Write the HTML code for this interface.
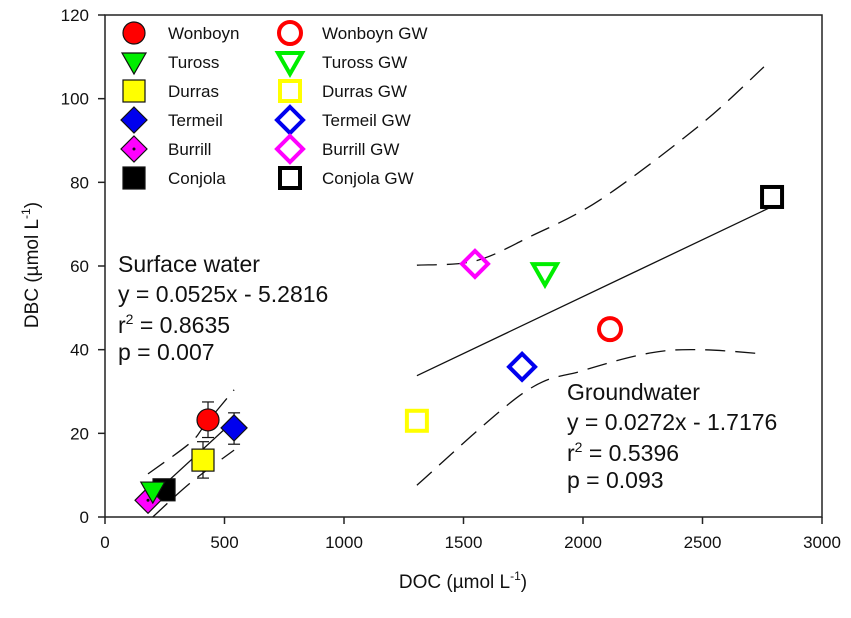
<!DOCTYPE html>
<html><head><meta charset="utf-8"><style>
body{margin:0;background:#fff}
svg{font-family:"Liberation Sans",Arial,sans-serif}
</style></head><body>
<svg id="chart" width="851" height="613" viewBox="0 0 851 613">
<g id="axes"></g><g id="lines"></g><g id="marks"></g><g id="legend"></g>
<g font-size="23" fill="#111">
<text x="118" y="272">Surface water</text>
<text x="118" y="302">y = 0.0525x - 5.2816</text>
<text x="118" y="333">r<tspan dy="-9" font-size="14">2</tspan><tspan dy="9"> = 0.8635</tspan></text>
<text x="118" y="360">p = 0.007</text>
</g>
<g font-size="23" fill="#111">
<text x="567" y="400">Groundwater</text>
<text x="567" y="430">y = 0.0272x - 1.7176</text>
<text x="567" y="461">r<tspan dy="-9" font-size="14">2</tspan><tspan dy="9"> = 0.5396</tspan></text>
<text x="567" y="488">p = 0.093</text>
</g>
<text x="463" y="588" font-size="19" text-anchor="middle" fill="#111">DOC (µmol L<tspan dy="-8" font-size="12">-1</tspan><tspan dy="8">)</tspan></text>
<text transform="translate(38,265) rotate(-90)" font-size="19" text-anchor="middle" fill="#111">DBC (µmol L<tspan dy="-8" font-size="12">-1</tspan><tspan dy="8">)</tspan></text>
</svg>
<script>
const xTicks=[0,500,1000,1500,2000,2500,3000];
const yTicks=[0,20,40,60,80,100,120];
const swNames=["Wonboyn","Tuross","Durras","Termeil","Burrill","Conjola"];
const swDOC=[431,200,410,540,180,247];
const swDBC=[23.2,6.2,13.6,21.3,4.0,6.5];
const swErrHi=[27.5,6.8,18,24.9,4.5,7.2];
const swErrLo=[19,5.6,9.3,17.4,3.5,5.8];
const gwNames=["Wonboyn GW","Tuross GW","Durras GW","Termeil GW","Burrill GW","Conjola GW"];
const gwDOC=[2113,1841,1305,1745,1548,2791];
const gwDBC=[44.9,58.3,23,35.9,60.5,76.5];
const colors=["#ff0000","#00ee00","#ffff00","#0000ee","#ff00ff","#000000"];
const shapes=["circle","tri","square","diamond","diamond","square"];
const swFit=[0.0525,-5.2816], swRange=[180,540];
const gwFit=[0.0272,-1.7176], gwRange=[1305,2790];
const swUpX=[180,356,418,540], swUpY=[10.3,17.7,22,30.4];
const swLoX=[200,356,540], swLoY=[0,8.1,16];
const gwUpX=[1305,1548,1778,2071,2490,2757], gwUpY=[60.2,61.2,67,75.8,93.7,107.6];
const gwLoX=[1305,1749,2000,2280,2490,2757], gwLoY=[7.6,29.6,35,39.2,40,39];

const L=105,R=822,T=15,B=517;
const sx=v=>L+(v-0)/3000*(R-L);
const sy=v=>B-(v-0)/120*(B-T);
const NS="http://www.w3.org/2000/svg";
function mk(tag,attrs,parent){const e=document.createElementNS(NS,tag);for(const k in attrs)e.setAttribute(k,attrs[k]);parent.appendChild(e);return e;}
const axes=document.getElementById('axes'),lines=document.getElementById('lines'),marks=document.getElementById('marks'),legend=document.getElementById('legend');
let f=mk('rect',{x:L,y:T,width:R-L,height:B-T,fill:'none',stroke:'#222','stroke-width':1.5},axes);


xTicks.forEach(v=>{
 let t=mk('line',{x1:sx(v),x2:sx(v),y1:B,y2:B+7,stroke:'#222','stroke-width':1.5},axes);
 
 
 let l=mk('text',{x:sx(v),y:B+31,'font-size':17,'text-anchor':'middle',fill:'#111'},axes);l.textContent=v;
 
 
});
yTicks.forEach(v=>{
 let t=mk('line',{x1:L-7,x2:L,y1:sy(v),y2:sy(v),stroke:'#222','stroke-width':1.5},axes);
 
 
 let l=mk('text',{x:L-16,y:sy(v)+6,'font-size':17,'text-anchor':'end',fill:'#111'},axes);l.textContent=v;
 
 
});
function fitLine(fit,rng,name){
 let e=mk('line',{x1:sx(rng[0]),y1:sy(fit[0]*rng[0]+fit[1]),x2:sx(rng[1]),y2:sy(fit[0]*rng[1]+fit[1]),stroke:'#111','stroke-width':1.3},lines);
 
 
}
function band(xs,ys,name){
 const P=xs.map((x,i)=>[sx(x),sy(ys[i])]);
 let d='M'+P[0][0].toFixed(1)+','+P[0][1].toFixed(1);
 for(let i=0;i<P.length-1;i++){
  const p0=P[Math.max(i-1,0)],p1=P[i],p2=P[i+1],p3=P[Math.min(i+2,P.length-1)];
  const c1=[p1[0]+(p2[0]-p0[0])/6,p1[1]+(p2[1]-p0[1])/6];
  const c2=[p2[0]-(p3[0]-p1[0])/6,p2[1]-(p3[1]-p1[1])/6];
  d+=` C${c1[0].toFixed(1)},${c1[1].toFixed(1)} ${c2[0].toFixed(1)},${c2[1].toFixed(1)} ${p2[0].toFixed(1)},${p2[1].toFixed(1)}`;
 }
 let e=mk('path',{d:d,fill:'none',stroke:'#111','stroke-width':1.3,'stroke-dasharray':'20,10'},lines);
 
 
}
fitLine(swFit,swRange,'surface-regression-line');
fitLine(gwFit,gwRange,'groundwater-regression-line');
band(swUpX,swUpY,'surface-upper-ci');band(swLoX,swLoY,'surface-lower-ci');
band(gwUpX,gwUpY,'groundwater-upper-ci');band(gwLoX,gwLoY,'groundwater-lower-ci');
function marker(parent,shape,cx,cy,color,open,burrill){
 const s=11, sw=open?4:1.2, fill=open?'none':color, st=open?color:'#111';
 let e;
 if(shape==='circle')e=mk('circle',{cx,cy,r:s,fill,stroke:st,'stroke-width':sw},parent);
 else if(shape==='square')e=mk('rect',{x:cx-s+ (open?1:0),y:cy-s+(open?1:0),width:2*s-(open?2:0),height:2*s-(open?2:0),fill,stroke:st,'stroke-width':sw},parent);
 else if(shape==='diamond')e=mk('path',{d:`M${cx},${cy-s-2}L${cx+s+2},${cy}L${cx},${cy+s+2}L${cx-s-2},${cy}Z`,fill,stroke:st,'stroke-width':sw},parent);
 else e=mk('path',{d:`M${cx-s-1},${cy-s+2}L${cx+s+1},${cy-s+2}L${cx},${cy+s+1}Z`,fill,stroke:st,'stroke-width':sw,'stroke-linejoin':'miter'},parent);
 if(burrill&&!open)mk('circle',{cx,cy,r:1.5,fill:'#111'},parent);
 return e;
}
const drawOrder=[5,4,1,2,0,3];
drawOrder.forEach(i=>{
 const x=swDOC[i];
 const g=mk('g',{},marks);
 
 
 const cx=sx(x);
 mk('line',{x1:cx,x2:cx,y1:sy(swErrHi[i]),y2:sy(swErrLo[i]),stroke:'#111','stroke-width':1.2},g);
 [swErrHi[i],swErrLo[i]].forEach(v=>mk('line',{x1:cx-6,x2:cx+6,y1:sy(v),y2:sy(v),stroke:'#111','stroke-width':1.2},g));
 marker(g,shapes[i],cx,sy(swDBC[i]),colors[i],false,i===4);
});
gwDOC.forEach((x,i)=>{
 const g=mk('g',{},marks);
 
 
 marker(g,shapes[i],sx(x),sy(gwDBC[i]),colors[i],true,false);
});
const rowY=[33,62,91,120,149,178];
swNames.forEach((n,i)=>{
 const g=mk('g',{},legend);
 
 
 marker(g,shapes[i],134,rowY[i],colors[i],false,i===4);
 const t=mk('text',{x:168,y:rowY[i]+6,'font-size':17,fill:'#111'},g);t.textContent=n;
 const g2=mk('g',{},legend);
 
 
 marker(g2,shapes[i],290,rowY[i],colors[i],true,false);
 const t2=mk('text',{x:322,y:rowY[i]+6,'font-size':17,fill:'#111'},g2);t2.textContent=gwNames[i];
});
</script>
</body></html>
